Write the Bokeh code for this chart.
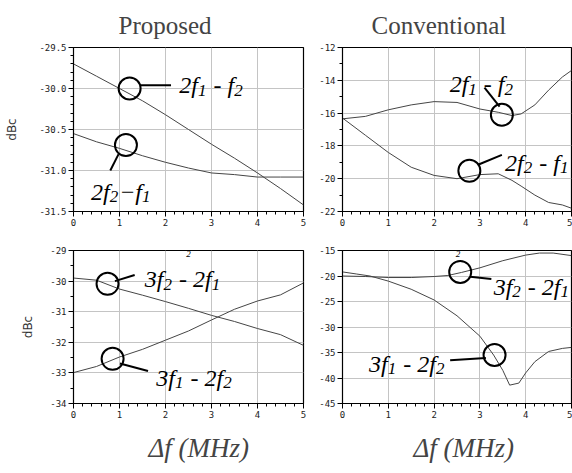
from bokeh.plotting import figure
from bokeh.layouts import column, row
from bokeh.models import FixedTicker, Range1d, Title, PrintfTickFormatter
from bokeh.core.properties import value
from bokeh.embed import file_html
from bokeh.resources import INLINE

# ---------------- data ----------------
# Proposed, third order
p3_x = [0, 0.5, 1.0, 1.5, 2.0, 2.5, 3.0, 3.5, 4.0, 4.5, 5.0]
p3_2f1_f2 = [-29.70, -29.85, -30.00, -30.15, -30.32, -30.50, -30.68, -30.85, -31.03, -31.22, -31.42]
p3_2f2_f1 = [-30.55, -30.65, -30.73, -30.82, -30.90, -30.97, -31.03, -31.05, -31.08, -31.08, -31.08]

# Conventional, third order
c3_x = [0, 0.5, 1.0, 1.5, 2.0, 2.5, 3.0, 3.4, 3.7, 3.9, 4.2, 4.5, 4.8, 5.0]
c3_2f1_f2 = [-16.35, -16.2, -15.8, -15.5, -15.3, -15.35, -15.75, -15.95, -16.15, -16.05, -15.5, -14.6, -13.8, -13.4]
c3_2f2_f1 = [-16.3, -17.35, -18.4, -19.3, -19.8, -20.0, -19.75, -19.7, -20.1, -20.45, -21.0, -21.45, -21.6, -21.8]

# Proposed, fifth order
p5_x = [0, 0.5, 1.0, 1.5, 2.0, 2.5, 3.0, 3.5, 4.0, 4.5, 5.0]
p5_3f2_2f1 = [-29.90, -29.97, -30.26, -30.46, -30.67, -30.89, -31.12, -31.32, -31.55, -31.75, -32.10]
p5_3f1_2f2 = [-32.99, -32.79, -32.48, -32.23, -31.93, -31.63, -31.27, -30.92, -30.65, -30.45, -30.06]

# Conventional, fifth order
c5_xa = [0, 0.5, 1.0, 1.5, 2.0, 2.3, 2.6, 3.0, 3.5, 4.0, 4.3, 4.6, 5.0]
c5_3f2_2f1 = [-20.0, -20.1, -20.3, -20.3, -20.1, -19.9, -19.3, -18.4, -17.0, -15.9, -15.5, -15.5, -16.0]
c5_xb = [0, 0.3, 0.6, 1.0, 1.5, 2.0, 2.5, 3.0, 3.3, 3.5, 3.65, 3.85, 4.0, 4.2, 4.5, 4.8, 5.0]
c5_3f1_2f2 = [-19.2, -19.6, -20.0, -21.0, -22.6, -24.7, -27.8, -31.8, -35.5, -38.5, -41.4, -41.0, -39.0, -36.8, -34.8, -34.2, -34.0]

x_ticks = [0, 1, 2, 3, 4, 5]
titles = ["Proposed", "Conventional"]
x_label = "\u0394f (MHz)"
y_label = "dBc"

NB = "\u00a0"
# product labels: (text, is_subscript) pieces
lbl_2f1_f2 = [("2f", False), ("1", True), (NB + "-" + NB + "f", False), ("2", True)]
lbl_2f2_f1_tight = [("2f", False), ("2", True), ("\u2212f", False), ("1", True)]
lbl_2f2_f1 = [("2f", False), ("2", True), (NB + "-" + NB + "f", False), ("1", True)]
lbl_3f2_2f1 = [("3f", False), ("2", True), (NB + "-" + NB + "2f", False), ("1", True)]
lbl_3f1_2f2 = [("3f", False), ("1", True), (NB + "-" + NB + "2f", False), ("2", True)]

SERIF = "Liberation Serif"
TICKFONT = "DejaVu Sans Mono"
CURVE = "#454545"
MAIN_PX = 24
SUB_PX = 17
# advance widths (em) of Times/Liberation Serif Italic
ADV = {"1": 0.5, "2": 0.5, "3": 0.5, "f": 0.278, " ": 0.25, NB: 0.25, "-": 0.333, "\u2212": 0.675}


def make_fig(width, height, bl, br, bt, bb, yr, yticks, yminor, fmt, ylab=None, ylab_standoff=10):
    p = figure(width=width, height=height, x_range=Range1d(0, 5), y_range=Range1d(*yr),
               output_backend="svg", toolbar_location=None,
               min_border_left=bl, min_border_right=br, min_border_top=bt, min_border_bottom=bb)
    p.background_fill_color = "white"
    p.border_fill_color = "white"
    p.outline_line_color = "black"
    p.outline_line_width = 1.2
    p.xaxis.ticker = FixedTicker(ticks=x_ticks, minor_ticks=[i * 0.2 for i in range(26)])
    p.yaxis.ticker = FixedTicker(ticks=yticks, minor_ticks=yminor)
    p.yaxis.formatter = PrintfTickFormatter(format=fmt)
    for ax in (p.xaxis[0], p.yaxis[0]):
        ax.axis_line_color = "black"
        ax.major_tick_line_color = "black"
        ax.minor_tick_line_color = "black"
        ax.major_tick_out = 5
        ax.major_tick_in = 0
        ax.minor_tick_out = 3
        ax.minor_tick_in = 0
        ax.major_label_text_font = TICKFONT
        ax.major_label_text_font_size = "9px"
        ax.major_label_text_color = "#222222"
        ax.major_label_standoff = 2
    if ylab:
        p.yaxis.axis_label = ylab
        p.yaxis.axis_label_text_font = "DejaVu Sans"
        p.yaxis.axis_label_text_font_size = "12px"
        p.yaxis.axis_label_text_font_style = "normal"
        p.yaxis.axis_label_text_color = "#333333"
        p.yaxis.axis_label_standoff = ylab_standoff
    p.xgrid.grid_line_color = "#c4c4c4"
    p.ygrid.grid_line_color = "#c4c4c4"
    p.xgrid.grid_line_width = 1
    p.ygrid.grid_line_width = 1
    return p


def draw_label(p, tx, ty, parts):
    off = 0.0
    for txt, sub in parts:
        size = SUB_PX if sub else MAIN_PX
        p.text([tx], [ty], text=[txt], text_font=value(SERIF), text_font_style="italic",
               text_font_size=f"{size}px", text_baseline="alphabetic", text_align="left",
               text_color="black", x_offset=off, y_offset=(13 if sub else 8))
        off += sum(ADV.get(ch, 0.5) for ch in txt) * size
        if sub:
            off += 1


def annotate(p, cx, cy, x0, y0, x1, y1, tx, ty, parts):
    p.scatter([cx], [cy], marker="circle", size=22, fill_color=None, line_color="black", line_width=2)
    p.segment([x0], [y0], [x1], [y1], line_color="black", line_width=2)
    draw_label(p, tx, ty, parts)


# ---- top-left: Proposed 3rd order ----
p1 = make_fig(310, 232, 73, 7, 47, 21, (-31.5, -29.5), [-31.5, -31.0, -30.5, -30.0, -29.5],
              [-31.5 + 0.1 * i for i in range(21)], "%.1f", y_label, 17)
p1.line(p3_x, p3_2f1_f2, line_color=CURVE, line_width=1)
p1.line(p3_x, p3_2f2_f1, line_color=CURVE, line_width=1)
annotate(p1, 1.22, -30.0, 1.45, -29.96, 2.12, -29.96, 2.3, -29.86, lbl_2f1_f2)
annotate(p1, 1.14, -30.69, 0.98, -30.8, 0.8, -31.0, 0.38, -31.16, lbl_2f2_f1_tight)
t1 = Title(text=titles[0], text_font=SERIF, text_font_size="25px", text_font_style="normal",
           align="left", offset=45, standoff=18)
p1.add_layout(t1, "above")

# ---- top-right: Conventional 3rd order ----
p2 = make_fig(262, 232, 32, 1, 47, 21, (-22, -12), [-22, -20, -18, -16, -14, -12],
              [-22 + i for i in range(11)], "%d")
p2.line(c3_x, c3_2f1_f2, line_color=CURVE, line_width=1)
p2.line(c3_x, c3_2f2_f1, line_color=CURVE, line_width=1)
annotate(p2, 3.48, -16.1, 3.1, -14.45, 3.43, -15.6, 2.34, -13.75, lbl_2f1_f2)
annotate(p2, 2.77, -19.52, 2.96, -19.15, 3.48, -18.55, 3.55, -18.55, lbl_2f2_f1)
t2 = Title(text=titles[1], text_font=SERIF, text_font_size="25px", text_font_style="normal",
           align="left", offset=29, standoff=18)
p2.add_layout(t2, "above")

# ---- bottom-left: Proposed 5th order ----
p3 = make_fig(310, 241, 73, 7, 18, 58, (-34, -29), [-34, -33, -32, -31, -30, -29],
              [-34 + 0.5 * i for i in range(11)], "%d", y_label, 12)
p3.line(p5_x, p5_3f2_2f1, line_color=CURVE, line_width=1)
p3.line(p5_x, p5_3f1_2f2, line_color=CURVE, line_width=1)
annotate(p3, 0.74, -30.09, 0.9, -30.0, 1.33, -29.8, 1.55, -29.68, lbl_3f2_2f1)
annotate(p3, 0.85, -32.54, 1.01, -32.69, 1.62, -32.94, 1.8, -32.9, lbl_3f1_2f2)
p3.text([2.5], [-29.12], text=["2"], text_font=value(SERIF), text_font_style="italic",
        text_font_size="9px", text_baseline="middle", text_align="center")
x1 = Title(text=x_label, text_font=SERIF, text_font_size="27px", text_font_style="italic",
           align="left", offset=75, standoff=21)
p3.add_layout(x1, "below")

# ---- bottom-right: Conventional 5th order ----
p4 = make_fig(262, 241, 32, 1, 18, 58, (-45, -15), [-45, -40, -35, -30, -25, -20, -15],
              [], "%d")
p4.line(c5_xa, c5_3f2_2f1, line_color=CURVE, line_width=1)
p4.line(c5_xb, c5_3f1_2f2, line_color=CURVE, line_width=1)
annotate(p4, 2.57, -19.2, 2.79, -20.15, 3.25, -20.6, 3.3, -20.5, lbl_3f2_2f1)
annotate(p4, 3.32, -35.5, 2.35, -36.5, 3.13, -36.1, 0.58, -35.6, lbl_3f1_2f2)
p4.text([2.52], [-15.6], text=["2"], text_font=value(SERIF), text_font_style="italic",
        text_font_size="9px", text_baseline="middle", text_align="center")
x2 = Title(text=x_label, text_font=SERIF, text_font_size="27px", text_font_style="italic",
           align="left", offset=71, standoff=21)
p4.add_layout(x2, "below")

layout = column(row(p1, p2), row(p3, p4))

with open("out.html", "w") as f:
    f.write(file_html(layout, INLINE))
